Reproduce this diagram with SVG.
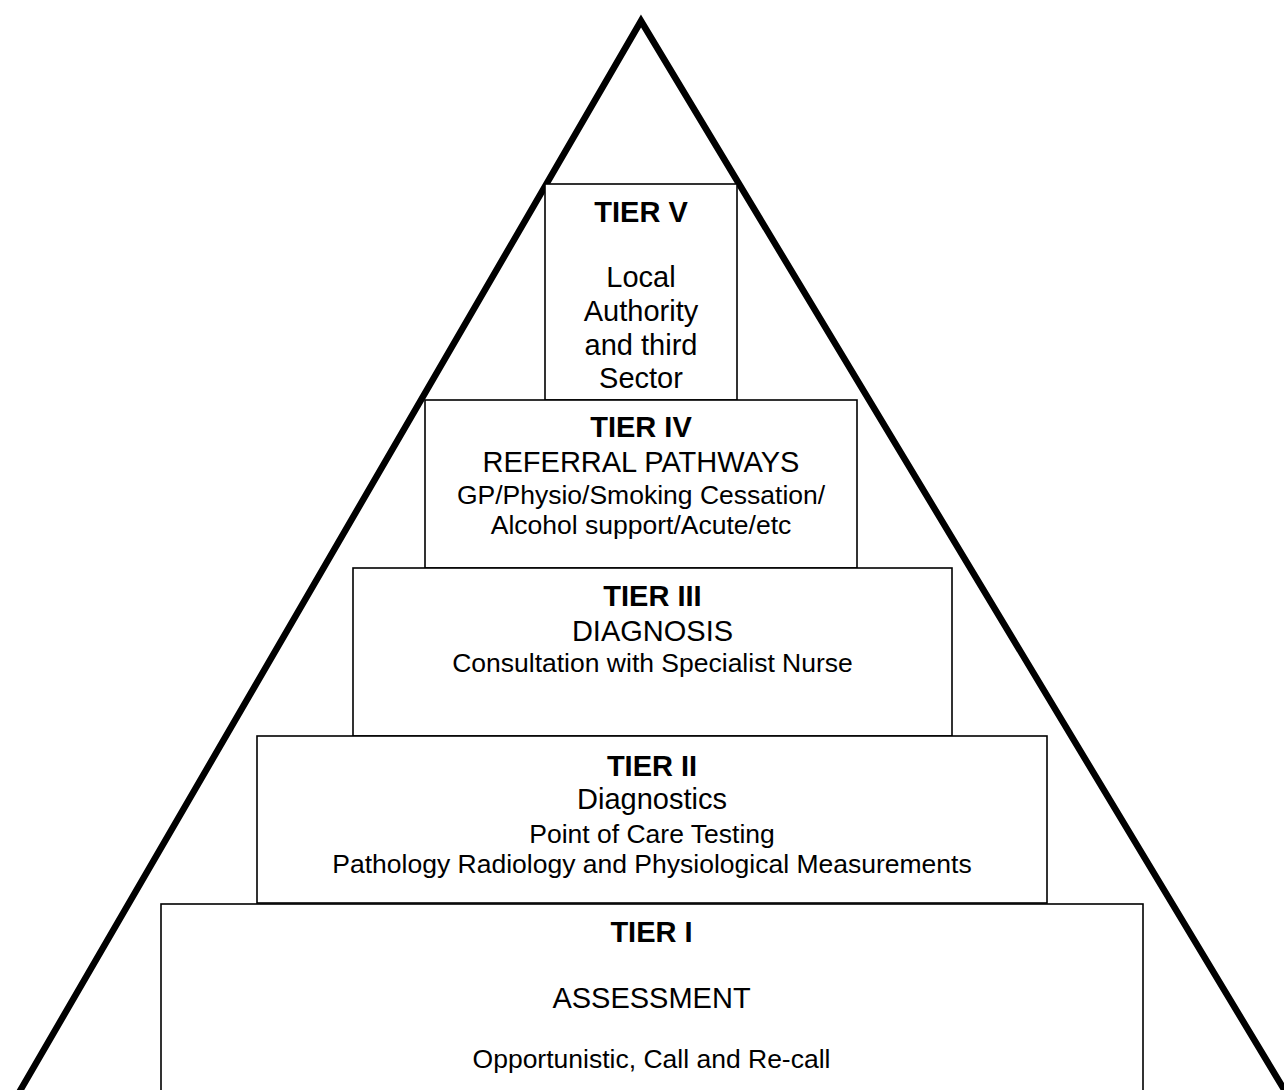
<svg xmlns="http://www.w3.org/2000/svg" width="1284" height="1090" viewBox="0 0 1284 1090">
<style>
.box{fill:#fff;stroke:#000;stroke-width:1.6}
.pyr{fill:none;stroke:#000;stroke-width:6.5;stroke-linejoin:miter;stroke-miterlimit:10}
text{font-family:"Liberation Sans",Arial,Helvetica,sans-serif;fill:#000;text-anchor:middle}
.h{font-size:29px;font-weight:bold}
.m{font-size:29px}
.s{font-size:26.5px}
</style>
<rect width="1284" height="1090" fill="#fff"/>
<g id="pyramid">
<polyline class="pyr" points="17,1096 641,21 1288,1096"/>
</g>
<g id="tier5">
<rect class="box" x="545" y="184" width="192" height="216"/>
<text class="h" x="641" y="222">TIER V</text>
<text class="m" x="641" y="287">Local</text>
<text class="m" x="641" y="321">Authority</text>
<text class="m" x="641" y="355">and third</text>
<text class="m" x="641" y="388">Sector</text>
</g>
<g id="tier4">
<rect class="box" x="425" y="400" width="432" height="168"/>
<text class="h" x="641" y="437">TIER IV</text>
<text class="m" x="641" y="472">REFERRAL PATHWAYS</text>
<text class="s" x="641" y="503.5">GP/Physio/Smoking Cessation/</text>
<text class="s" x="641" y="533.5">Alcohol support/Acute/etc</text>
</g>
<g id="tier3">
<rect class="box" x="353" y="568" width="599" height="168"/>
<text class="h" x="652.5" y="606">TIER III</text>
<text class="m" x="652.5" y="641">DIAGNOSIS</text>
<text class="s" x="652.5" y="672">Consultation with Specialist Nurse</text>
</g>
<g id="tier2">
<rect class="box" x="257" y="736" width="790" height="167"/>
<text class="h" x="652" y="775.5">TIER II</text>
<text class="m" x="652" y="809">Diagnostics</text>
<text class="s" x="652" y="843">Point of Care Testing</text>
<text class="s" x="652" y="873">Pathology Radiology and Physiological Measurements</text>
</g>
<g id="tier1">
<rect class="box" x="161" y="904" width="982" height="200"/>
<text class="h" x="651.5" y="942">TIER I</text>
<text class="m" x="651.5" y="1008">ASSESSMENT</text>
<text class="s" x="651.5" y="1068">Opportunistic, Call and Re-call</text>
</g>
</svg>
